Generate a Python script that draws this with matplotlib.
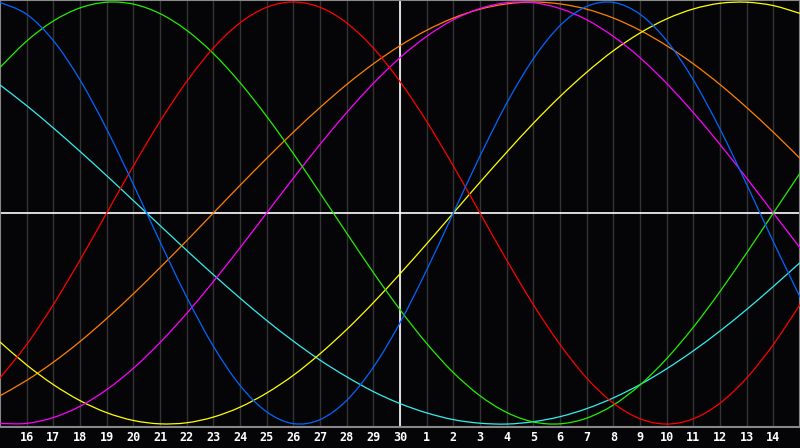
import matplotlib
matplotlib.use("Agg")
import matplotlib.pyplot as plt
from matplotlib.path import Path
from matplotlib.patches import PathPatch

# day of month for every column, 15th to 15th
days = [15, 16, 17, 18, 19, 20, 21, 22, 23, 24, 25, 26, 27, 28, 29, 30,
        1, 2, 3, 4, 5, 6, 7, 8, 9, 10, 11, 12, 13, 14, 15]

# cycle values, one per day (-1 .. 1)
physical = [0.998, 0.942, 0.817, 0.631, 0.398, 0.136, -0.136, -0.398, -0.631, -0.817,
            -0.942, -0.998, -0.979, -0.888, -0.731, -0.520, -0.270, 0.0, 0.270, 0.520,
            0.731, 0.888, 0.979, 0.998, 0.942, 0.817, 0.631, 0.398, 0.136, -0.136, -0.398]
emotional = [-0.782, -0.623, -0.434, -0.223, 0.0, 0.223, 0.434, 0.623, 0.782, 0.901,
             0.975, 1.0, 0.975, 0.901, 0.782, 0.623, 0.434, 0.223, 0.0, -0.223,
             -0.434, -0.623, -0.782, -0.901, -0.975, -1.0, -0.975, -0.901, -0.782, -0.623, -0.434]
intellectual = [0.690, 0.815, 0.910, 0.972, 0.999, 0.990, 0.945, 0.866, 0.756, 0.618,
                0.458, 0.282, 0.095, -0.095, -0.282, -0.458, -0.618, -0.756, -0.866, -0.945,
                -0.990, -0.999, -0.972, -0.910, -0.815, -0.690, -0.541, -0.372, -0.189, 0.0, 0.189]
intuitive = [-0.997, -0.997, -0.969, -0.916, -0.837, -0.736, -0.614, -0.476, -0.325, -0.165,
             0.0, 0.165, 0.325, 0.476, 0.614, 0.736, 0.837, 0.916, 0.969, 0.997,
             0.997, 0.969, 0.916, 0.837, 0.736, 0.614, 0.476, 0.325, 0.165, 0.0, -0.165]
aesthetic = [-0.611, -0.720, -0.813, -0.889, -0.946, -0.983, -0.999, -0.994, -0.967, -0.920,
             -0.853, -0.769, -0.667, -0.552, -0.425, -0.288, -0.146, 0.0, 0.146, 0.288,
             0.425, 0.552, 0.667, 0.769, 0.853, 0.920, 0.967, 0.994, 0.999, 0.983, 0.946]
awareness = [-0.866, -0.793, -0.707, -0.609, -0.500, -0.383, -0.259, -0.131, 0.0, 0.131,
             0.259, 0.383, 0.500, 0.609, 0.707, 0.793, 0.866, 0.924, 0.966, 0.991,
             1.0, 0.991, 0.966, 0.924, 0.866, 0.793, 0.707, 0.609, 0.500, 0.383, 0.259]
spiritual = [0.607, 0.509, 0.403, 0.292, 0.177, 0.059, -0.059, -0.177, -0.292, -0.403,
             -0.509, -0.607, -0.697, -0.776, -0.846, -0.903, -0.947, -0.979, -0.996, -1.0,
             -0.989, -0.965, -0.927, -0.876, -0.813, -0.738, -0.653, -0.559, -0.457, -0.348, -0.235]

series = [
    (spiritual, '#33eeee'),
    (awareness, '#ff8000'),
    (aesthetic, '#ffff00'),
    (intuitive, '#ff00ff'),
    (intellectual, '#22ee00'),
    (emotional, '#ff0000'),
    (physical, '#0066ff'),
]


def smooth_path(xs, ys):
    # catmull-rom through the daily points, as cubic bezier segments
    n = len(xs)
    verts = [(xs[0], ys[0])]
    codes = [Path.MOVETO]
    for i in range(n - 1):
        i0, i3 = max(i - 1, 0), min(i + 2, n - 1)
        c1 = (xs[i] + (xs[i + 1] - xs[i0]) / 6, ys[i] + (ys[i + 1] - ys[i0]) / 6)
        c2 = (xs[i + 1] - (xs[i3] - xs[i]) / 6, ys[i + 1] - (ys[i3] - ys[i]) / 6)
        verts += [c1, c2, (xs[i + 1], ys[i + 1])]
        codes += [Path.CURVE4] * 3
    return Path(verts, codes)


fig = plt.figure(figsize=(8, 4.48), dpi=100, facecolor='#050508')
ax = fig.add_axes([0, 21 / 448, 1, 427 / 448])
ax.set_facecolor('#050508')

x = list(range(len(days)))

# grid + centre cross
for i in x[1:-1]:
    ax.axvline(i, color='#333333', lw=1, zorder=1)
ax.axvline(days.index(30), color='white', lw=1.2, zorder=2)
ax.axhline(0, color='white', lw=1.2, zorder=2)

for vals, col in series:
    ax.add_patch(PathPatch(smooth_path(x, vals), facecolor='none',
                           edgecolor=col, lw=0.9, zorder=3))

ax.set_xlim(0, len(days) - 1)
ax.set_ylim(-1.014, 1.0095)

ax.set_xticks(x[1:-1])
ax.set_xticklabels([str(d) for d in days[1:-1]], color='white',
                   fontsize=8.5, fontweight='bold', family='DejaVu Sans Mono')
ax.tick_params(axis='x', length=0, pad=3)
ax.set_yticks([])
for s in ax.spines.values():
    s.set_color('#888888')
    s.set_linewidth(1.5)

fig.savefig('out.png', dpi=100, facecolor=fig.get_facecolor())
